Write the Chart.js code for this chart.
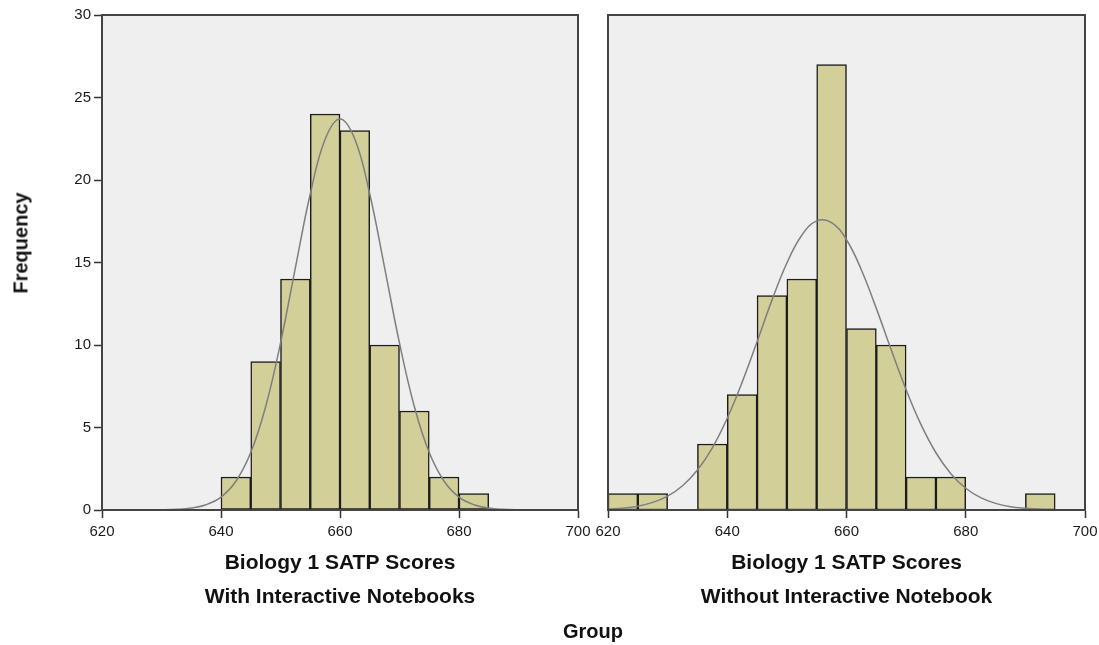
<!DOCTYPE html>
<html>
<head>
<meta charset="utf-8">
<script src="https://cdn.jsdelivr.net/npm/chart.js@4/dist/chart.umd.min.js"></script>
<style>
  html, body { margin: 0; padding: 0; background: #ffffff; }
  body { width: 1099px; height: 645px; position: relative; overflow: hidden; font-family: "Liberation Sans", Arial, sans-serif; }
  #wrapL { position: absolute; left: 0; top: 0; width: 595px; height: 645px; }
  #wrapR { position: absolute; left: 595px; top: 0; width: 504px; height: 645px; }
  .lbl { position: absolute; font-weight: bold; font-size: 20px; color: #111; white-space: nowrap; }
  #freq { left: 21px; top: 243px; transform: translate(-50%, -50%) rotate(-90deg); }
  #group { left: 593px; top: 631px; transform: translate(-50%, -50%); }
</style>
</head>
<body>
<div id="wrapL"><canvas id="cL" width="595" height="645"></canvas></div>
<div id="wrapR"><canvas id="cR" width="504" height="645"></canvas></div>
<div class="lbl" id="freq">Frequency</div>
<div class="lbl" id="group">Group</div>
<script>
// ---- data ----
const binCentersLeft = [642.5, 647.5, 652.5, 657.5, 662.5, 667.5, 672.5, 677.5, 682.5];
const countsLeft     = [2, 9, 14, 24, 23, 10, 6, 2, 1];

const binCentersRight = [622.5, 627.5, 637.5, 642.5, 647.5, 652.5, 657.5, 662.5, 667.5, 672.5, 677.5, 692.5];
const countsRight     = [1, 1, 4, 7, 13, 14, 27, 11, 10, 2, 2, 1];

const curveX = [620, 622.5, 625, 627.5, 630, 632.5, 635, 637.5, 640, 642.5, 645, 647.5, 650, 652.5, 655, 657.5,
                660, 662.5, 665, 667.5, 670, 672.5, 675, 677.5, 680, 682.5, 685, 687.5, 690, 692.5, 695, 697.5, 700];
const curveLeft = [0.00, 0.00, 0.00, 0.00, 0.01, 0.04, 0.12, 0.32, 0.78, 1.74, 3.48, 6.26, 10.11, 14.68, 19.15, 22.47,
                   23.70, 22.47, 19.15, 14.68, 10.11, 6.26, 3.48, 1.74, 0.78, 0.32, 0.12, 0.04, 0.01, 0.00, 0.00, 0.00, 0.00];
const curveRight = [0.05, 0.11, 0.23, 0.46, 0.84, 1.47, 2.42, 3.77, 5.56, 7.75, 10.20, 12.72, 14.97, 16.65, 17.52, 17.42,
                    16.38, 14.55, 12.22, 9.71, 7.29, 5.17, 3.47, 2.20, 1.32, 0.75, 0.40, 0.20, 0.10, 0.04, 0.02, 0.01, 0.00];

const xTicks = [620, 640, 660, 680, 700];
const yTicks = [0, 5, 10, 15, 20, 25, 30];
const titleLeft  = ["Biology 1 SATP Scores", "With Interactive Notebooks"];
const titleRight = ["Biology 1 SATP Scores", "Without Interactive Notebook"];

// ---- styling ----
const BAR_FILL = '#d3cf98';
const BAR_EDGE = '#1c1c1c';
const CURVE = '#7f7f7f';
const PLOT_BG = '#efefef';
const FRAME = '#444444';
const TICK_FONT = { family: '"Liberation Sans", Arial, sans-serif', size: 15 };
const TITLE_FONT = { family: '"Liberation Sans", Arial, sans-serif', size: 21, weight: 'bold', lineHeight: 34 / 21 };

const framePlugin = {
  id: 'frame',
  beforeDraw(chart) {
    const { ctx, chartArea: a } = chart;
    ctx.save();
    ctx.fillStyle = PLOT_BG;
    ctx.fillRect(a.left, a.top, a.right - a.left, a.bottom - a.top);
    ctx.restore();
  },
  afterDraw(chart) {
    const { ctx, chartArea: a } = chart;
    ctx.save();
    ctx.strokeStyle = FRAME;
    ctx.lineWidth = 2;
    ctx.strokeRect(a.left, a.top, a.right - a.left, a.bottom - a.top);
    ctx.restore();
  }
};

function toXY(xs, ys) { return xs.map((x, i) => ({ x: x, y: ys[i] })); }

function makeChart(id, centers, counts, curve, title, showY, pad) {
  return new Chart(document.getElementById(id), {
    type: 'bar',
    data: {
      datasets: [
        {
          type: 'line',
          data: toXY(curveX, curve),
          borderColor: CURVE,
          borderWidth: 1.5,
          pointRadius: 0,
          tension: 0.4,
          fill: false,
          order: 0
        },
        {
          type: 'bar',
          data: toXY(centers, counts),
          backgroundColor: BAR_FILL,
          borderColor: BAR_EDGE,
          borderWidth: 1.5,
          borderSkipped: false,
          barPercentage: 1,
          categoryPercentage: 1,
          order: 1
        }
      ]
    },
    options: {
      responsive: false,
      animation: false,
      events: [],
      layout: { padding: pad },
      plugins: { legend: { display: false }, tooltip: { enabled: false }, title: { display: false } },
      scales: {
        x: {
          type: 'linear',
          min: 620, max: 700,
          offset: false,
          afterBuildTicks: s => { s.ticks = xTicks.map(v => ({ value: v })); },
          ticks: { color: '#1a1a1a', font: TICK_FONT, padding: 5, maxRotation: 0, autoSkip: false },
          grid: { display: true, offset: false, drawOnChartArea: false, drawTicks: true, tickLength: 8, tickColor: '#333', tickWidth: 1.5 },
          border: { display: true, color: '#333', width: 2 },
          title: { display: true, text: title, color: '#111', font: TITLE_FONT, padding: { top: 0, bottom: 31 } },
          afterFit: s => { s.height = 135; s.paddingLeft = 0; s.paddingRight = 0; }
        },
        y: {
          display: showY,
          min: 0, max: 30,
          afterBuildTicks: s => { s.ticks = yTicks.map(v => ({ value: v })); },
          ticks: { color: '#1a1a1a', font: TICK_FONT, padding: 3 },
          grid: { display: true, offset: false, drawOnChartArea: false, drawTicks: true, tickLength: 8, tickColor: '#333', tickWidth: 1.5 },
          border: { display: true, color: '#333', width: 2 },
          afterFit: s => { if (showY) s.width = 102; s.paddingTop = 0; s.paddingBottom = 0; }
        }
      }
    },
    plugins: [framePlugin]
  });
}

makeChart('cL', binCentersLeft, countsLeft, curveLeft, titleLeft, true, { left: 0, top: 15, right: 17, bottom: 0 });
makeChart('cR', binCentersRight, countsRight, curveRight, titleRight, false, { left: 13, top: 15, right: 14, bottom: 0 });
</script>
</body>
</html>
